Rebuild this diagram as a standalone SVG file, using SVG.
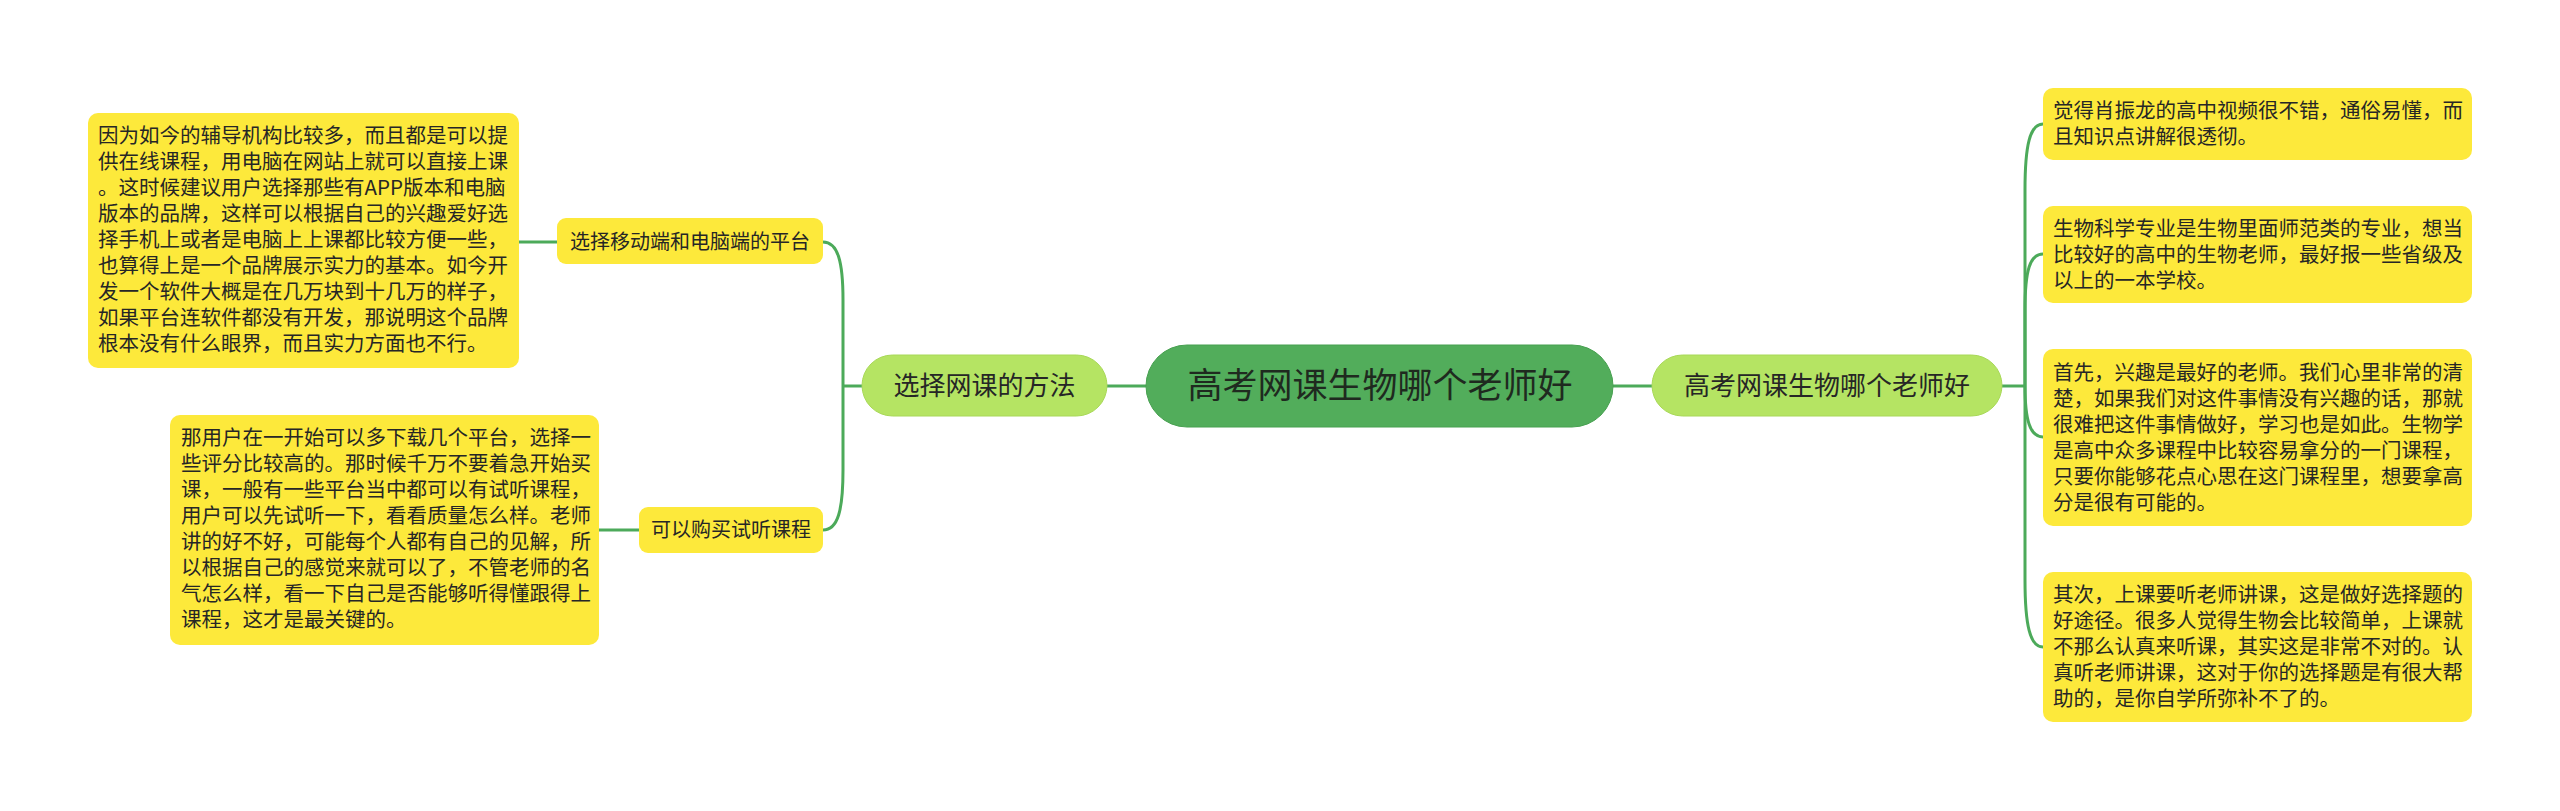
<svg xmlns="http://www.w3.org/2000/svg" width="2560" height="811" viewBox="0 0 2560 811">
<style>
.leaf{fill:#fde93b;}
.lt{font-family:"Noto Sans CJK SC","Noto Sans",sans-serif;font-size:20.5px;fill:#262626;}
.st{font-family:"Noto Sans CJK SC","Noto Sans",sans-serif;font-size:20px;fill:#262626;text-anchor:middle;}
.mt{font-family:"Noto Sans CJK SC","Noto Sans",sans-serif;font-size:26px;fill:#262626;text-anchor:middle;}
.ct{font-family:"Noto Sans CJK SC","Noto Sans",sans-serif;font-size:35px;fill:#1f2a1f;text-anchor:middle;}
.main{fill:#b5e463;stroke:#a8d858;stroke-width:1;}
.con{fill:none;stroke:#4caa5a;stroke-width:3;}
</style>
<rect width="2560" height="811" fill="#ffffff"/>
<g id="connectors">
<path class="con" d="M1146 386 L1107 386"/>
<path class="con" d="M1613 386 L1652 386"/>
<path class="con" d="M862 386 L843 386"/>
<path class="con" d="M843 386 L843 300 C843 262 838 242 823 242"/>
<path class="con" d="M843 386 L843 470 C843 510 838 530 823 530"/>
<path class="con" d="M557 242 L519 242"/>
<path class="con" d="M639 530 L599 530"/>
<path class="con" d="M2002 386 L2025 386"/>
<path class="con" d="M2025 386 L2025 190 C2025 145 2030 124 2043 124"/>
<path class="con" d="M2025 386 L2025 310 C2025 270 2030 254 2043 254"/>
<path class="con" d="M2025 386 C2025 420 2030 437 2043 437"/>
<path class="con" d="M2025 386 L2025 580 C2025 625 2030 647 2043 647"/>
</g>
<g id="center">
<rect x="1146" y="345" width="467" height="82" rx="41" fill="#52ad5b" stroke="#47a050" stroke-width="1"/>
<text class="ct" x="1380" y="398">高考网课生物哪个老师好</text>
</g>
<g id="left-main">
<rect class="main" x="862" y="355" width="245" height="61" rx="30.5"/>
<text class="mt" x="984.5" y="395">选择网课的方法</text>
</g>
<g id="right-main">
<rect class="main" x="1652" y="355" width="350" height="61" rx="30.5"/>
<text class="mt" x="1827" y="395">高考网课生物哪个老师好</text>
</g>
<g id="left-sub1">
<rect class="leaf" x="557" y="218" width="266" height="46" rx="9"/>
<text class="st" x="690" y="249">选择移动端和电脑端的平台</text>
</g>
<g id="left-sub2">
<rect class="leaf" x="639" y="507" width="184" height="46" rx="9"/>
<text class="st" x="731" y="537">可以购买试听课程</text>
</g>
<g id="left-leaf1">
<rect class="leaf" x="88" y="113" width="431" height="255" rx="10"/>
<text class="lt" x="98" y="143">
<tspan x="98">因为如今的辅导机构比较多，而且都是可以提</tspan>
<tspan x="98" dy="26">供在线课程，用电脑在网站上就可以直接上课</tspan>
<tspan x="98" dy="26">。这时候建议用户选择那些有APP版本和电脑</tspan>
<tspan x="98" dy="26">版本的品牌，这样可以根据自己的兴趣爱好选</tspan>
<tspan x="98" dy="26">择手机上或者是电脑上上课都比较方便一些，</tspan>
<tspan x="98" dy="26">也算得上是一个品牌展示实力的基本。如今开</tspan>
<tspan x="98" dy="26">发一个软件大概是在几万块到十几万的样子，</tspan>
<tspan x="98" dy="26">如果平台连软件都没有开发，那说明这个品牌</tspan>
<tspan x="98" dy="26">根本没有什么眼界，而且实力方面也不行。</tspan>
</text>
</g>
<g id="left-leaf2">
<rect class="leaf" x="170" y="415" width="429" height="230" rx="10"/>
<text class="lt" x="181" y="445">
<tspan x="181">那用户在一开始可以多下载几个平台，选择一</tspan>
<tspan x="181" dy="26">些评分比较高的。那时候千万不要着急开始买</tspan>
<tspan x="181" dy="26">课，一般有一些平台当中都可以有试听课程，</tspan>
<tspan x="181" dy="26">用户可以先试听一下，看看质量怎么样。老师</tspan>
<tspan x="181" dy="26">讲的好不好，可能每个人都有自己的见解，所</tspan>
<tspan x="181" dy="26">以根据自己的感觉来就可以了，不管老师的名</tspan>
<tspan x="181" dy="26">气怎么样，看一下自己是否能够听得懂跟得上</tspan>
<tspan x="181" dy="26">课程，这才是最关键的。</tspan>
</text>
</g>
<g id="right-leaf1">
<rect class="leaf" x="2043" y="88" width="429" height="72" rx="10"/>
<text class="lt" x="2053" y="118">
<tspan x="2053">觉得肖振龙的高中视频很不错，通俗易懂，而</tspan>
<tspan x="2053" dy="26">且知识点讲解很透彻。</tspan>
</text>
</g>
<g id="right-leaf2">
<rect class="leaf" x="2043" y="206" width="429" height="97" rx="10"/>
<text class="lt" x="2053" y="236">
<tspan x="2053">生物科学专业是生物里面师范类的专业，想当</tspan>
<tspan x="2053" dy="26">比较好的高中的生物老师，最好报一些省级及</tspan>
<tspan x="2053" dy="26">以上的一本学校。</tspan>
</text>
</g>
<g id="right-leaf3">
<rect class="leaf" x="2043" y="349" width="429" height="177" rx="10"/>
<text class="lt" x="2053" y="380">
<tspan x="2053">首先，兴趣是最好的老师。我们心里非常的清</tspan>
<tspan x="2053" dy="26">楚，如果我们对这件事情没有兴趣的话，那就</tspan>
<tspan x="2053" dy="26">很难把这件事情做好，学习也是如此。生物学</tspan>
<tspan x="2053" dy="26">是高中众多课程中比较容易拿分的一门课程，</tspan>
<tspan x="2053" dy="26">只要你能够花点心思在这门课程里，想要拿高</tspan>
<tspan x="2053" dy="26">分是很有可能的。</tspan>
</text>
</g>
<g id="right-leaf4">
<rect class="leaf" x="2043" y="572" width="429" height="150" rx="10"/>
<text class="lt" x="2053" y="602">
<tspan x="2053">其次，上课要听老师讲课，这是做好选择题的</tspan>
<tspan x="2053" dy="26">好途径。很多人觉得生物会比较简单，上课就</tspan>
<tspan x="2053" dy="26">不那么认真来听课，其实这是非常不对的。认</tspan>
<tspan x="2053" dy="26">真听老师讲课，这对于你的选择题是有很大帮</tspan>
<tspan x="2053" dy="26">助的，是你自学所弥补不了的。</tspan>
</text>
</g>
</svg>
